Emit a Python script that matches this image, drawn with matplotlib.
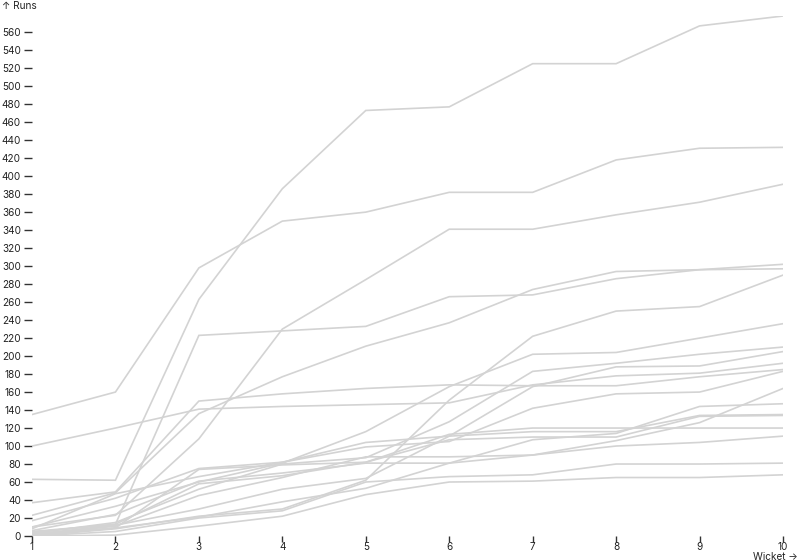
import matplotlib
matplotlib.use('Agg')
import matplotlib.pyplot as plt

plt.rcParams['font.family'] = ['Inter', 'DejaVu Sans']

wickets = [1, 2, 3, 4, 5, 6, 7, 8, 9, 10]

# cumulative runs at the fall of each wicket, one list per innings
inn01 = [63, 62, 263, 386, 473, 477, 525, 525, 567, 578]
inn02 = [135, 160, 298, 350, 360, 382, 382, 418, 431, 432]
inn03 = [10, 23, 108, 230, 285, 341, 341, 357, 371, 391]
inn04 = [5, 13, 223, 228, 233, 266, 268, 286, 296, 302]
inn05 = [23, 48, 136, 177, 211, 237, 274, 294, 296, 297]
inn06 = [0, 8, 22, 30, 62, 151, 222, 250, 255, 290]
inn07 = [10, 33, 60, 81, 116, 166, 202, 204, 220, 236]
inn08 = [3, 15, 52, 80, 87, 127, 183, 192, 202, 210]
inn09 = [8, 47, 66, 82, 104, 111, 166, 188, 189, 205]
inn10 = [100, 120, 141, 144, 146, 148, 168, 178, 181, 192]
inn11 = [37, 49, 150, 158, 164, 168, 167, 167, 177, 185]
inn12 = [17, 42, 75, 82, 99, 105, 142, 158, 160, 183]
inn13 = [1, 11, 45, 65, 88, 88, 90, 106, 126, 164]
inn14 = [6, 24, 61, 70, 81, 81, 107, 114, 144, 147]
inn15 = [2, 12, 30, 52, 64, 111, 116, 116, 134, 135]
inn16 = [0, 9, 74, 79, 82, 107, 110, 110, 133, 134]
inn17 = [4, 13, 58, 67, 82, 113, 120, 120, 120, 120]
inn18 = [2, 9, 21, 38, 53, 81, 90, 100, 104, 111]
inn19 = [0, 5, 20, 28, 60, 66, 68, 80, 80, 81]
inn20 = [0, 1, 11, 22, 46, 60, 61, 65, 65, 68]

innings = [inn01, inn02, inn03, inn04, inn05, inn06, inn07, inn08, inn09, inn10,
           inn11, inn12, inn13, inn14, inn15, inn16, inn17, inn18, inn19, inn20]

W, H = 800, 560
fig = plt.figure(figsize=(W / 100, H / 100), dpi=100)
# plot area in pixels: x 32..783, y 16..536
left, right, top, bottom = 32, 783, 16, 536
ax = fig.add_axes([left / W, 1 - bottom / H, (right - left) / W, (bottom - top) / H])

for runs in innings:
    ax.plot(wickets, runs, color='#d3d3d3', linewidth=1.2, solid_joinstyle='miter')

ax.set_xlim(1, 10)
ax.set_ylim(0, max(max(r) for r in innings))
ax.set_facecolor('none')
for s in ax.spines.values():
    s.set_visible(False)

ax.set_xticks(wickets)
ax.set_yticks(range(0, 561, 20))
ax.tick_params(axis='y', length=6, width=1, color='#333333', labelsize=7.2,
               labelcolor='#222222', pad=2)
ax.tick_params(axis='x', length=4, width=1, color='#333333', labelsize=7.2,
               labelcolor='#222222', pad=0.5)
ax.xaxis.set_ticks_position('bottom')

fig.text(2 / W, 1 - 6 / H, '↑ Runs', fontsize=7.2, color='#222222', ha='left', va='center')
fig.text(798 / W, 1 - 556.5 / H, 'Wicket →', fontsize=7.2, color='#222222', ha='right', va='center')

fig.savefig('out.png', dpi=100, facecolor='white')
